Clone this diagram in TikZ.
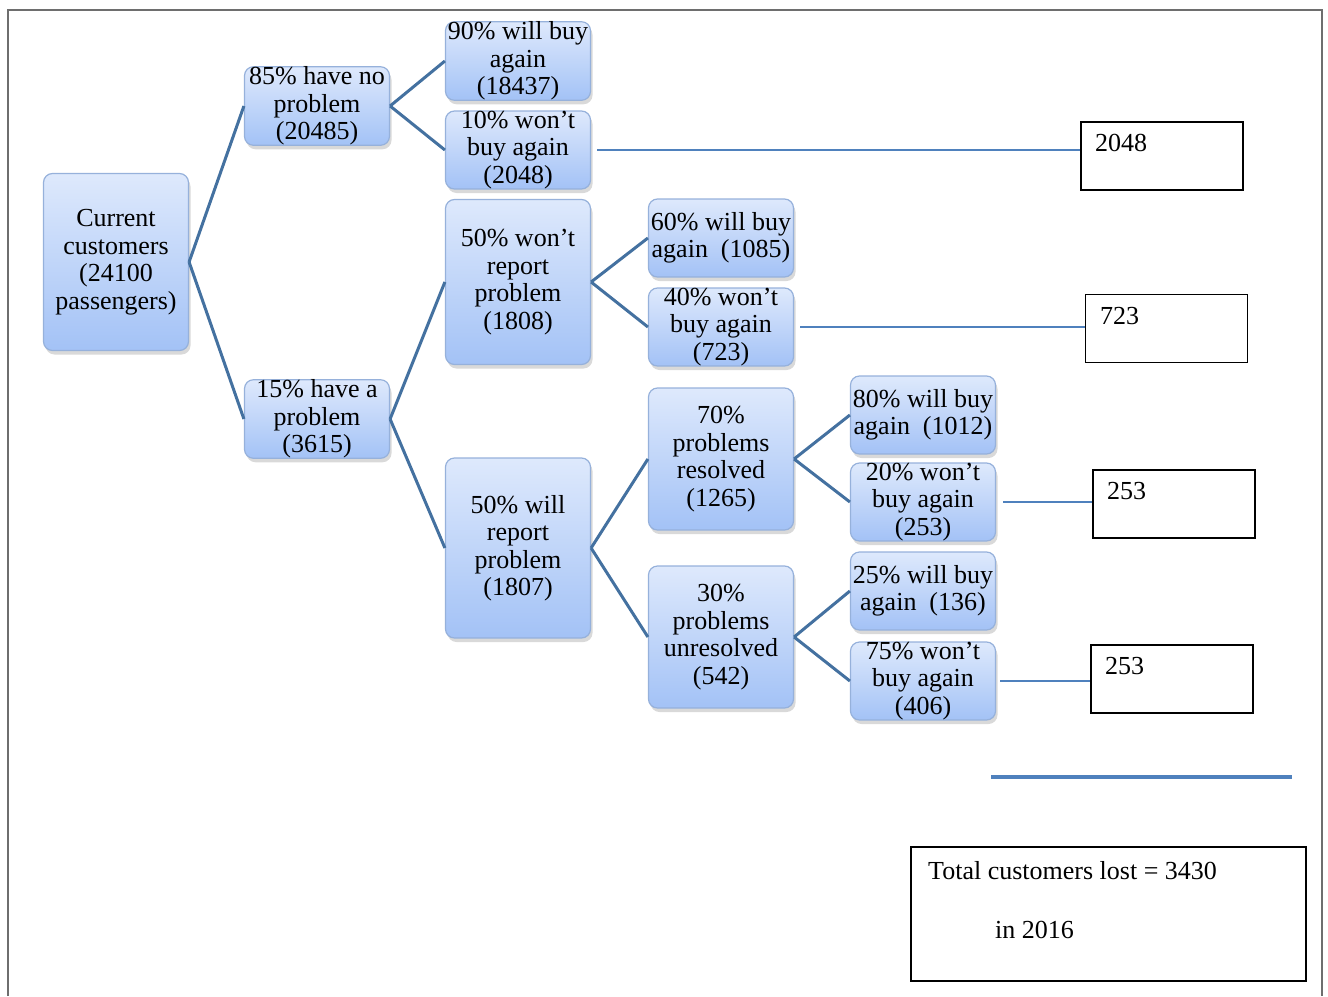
\documentclass[tikz,border=0pt]{standalone}
\usepackage{fontspec}
\setmainfont{Liberation Serif}
\usetikzlibrary{shadows}

\definecolor{boxtop}{RGB}{222,233,252}
\definecolor{boxbottom}{RGB}{163,194,246}
\definecolor{boxedge}{RGB}{150,177,219}
\definecolor{branchblue}{RGB}{68,113,160}
\definecolor{lostblue}{RGB}{79,129,189}
\definecolor{framegray}{RGB}{110,110,110}

\tikzset{
    treebox/.style={rectangle, rounded corners=9pt, draw=boxedge, line width=1.2pt,
        top color=boxtop, bottom color=boxbottom,
        drop shadow={shadow xshift=2pt, shadow yshift=-4pt, opacity=0.3},
        align=center, inner sep=0pt, minimum width=145pt,
        font=\fontsize{26}{27.5}\selectfont},
    branch/.style={draw=branchblue, line width=3pt},
    lostline/.style={draw=lostblue, line width=2pt},
    lostbox/.style={draw=black, line width=1.6pt, minimum width=162pt,
        minimum height=68pt, inner sep=0pt},
    losttext/.style={anchor=west, inner sep=0pt, font=\fontsize{26}{28}\selectfont}
}

\begin{document}
\begin{tikzpicture}[x=1pt, y=-1pt]
    \useasboundingbox (0,0) rectangle (1328,996);
    \draw [framegray, line width=2pt] (8,996) -- (8,10) -- (1322,10) -- (1322,996);

    % tree boxes
    \node [treebox, minimum height=177pt] (root) at (116,262) {Current\\customers\\(24100\\passengers)};
    \node [treebox, minimum height=78pt] (nop) at (317,106) {85\% have no\\problem\\(20485)};
    \node [treebox, minimum height=78pt] (prob) at (317,419) {15\% have a\\problem\\(3615)};
    \node [treebox, minimum height=78pt] (nopbuy) at (518,61) {90\% will buy\\again\\(18437)};
    \node [treebox, minimum height=78pt] (noplost) at (518,150) {10\% won't\\buy again\\(2048)};
    \node [treebox, minimum height=165pt] (norep) at (518,282) {50\% won't\\report\\problem\\(1808)};
    \node [treebox, minimum height=180pt] (rep) at (518,548) {50\% will\\report\\problem\\(1807)};
    \node [treebox, minimum height=78pt] (norepbuy) at (721,238) {60\% will buy\\again\ \ (1085)};
    \node [treebox, minimum height=78pt] (noreplost) at (721,327) {40\% won't\\buy again\\(723)};
    \node [treebox, minimum height=142pt] (res) at (721,459) {70\%\\problems\\resolved\\(1265)};
    \node [treebox, minimum height=142pt] (unres) at (721,637) {30\%\\problems\\unresolved\\(542)};
    \node [treebox, minimum height=78pt] (resbuy) at (923,415) {80\% will buy\\again\ \ (1012)};
    \node [treebox, minimum height=78pt] (reslost) at (923,502) {20\% won't\\buy again\\(253)};
    \node [treebox, minimum height=78pt] (unresbuy) at (923,591) {25\% will buy\\again\ \ (136)};
    \node [treebox, minimum height=78pt] (unreslost) at (923,681) {75\% won't\\buy again\\(406)};

    % branches
    \draw [branch] (root.east) -- (nop.west);
    \draw [branch] (root.east) -- (prob.west);
    \draw [branch] (nop.east) -- (nopbuy.west);
    \draw [branch] (nop.east) -- (noplost.west);
    \draw [branch] (prob.east) -- (norep.west);
    \draw [branch] (prob.east) -- (rep.west);
    \draw [branch] (norep.east) -- (norepbuy.west);
    \draw [branch] (norep.east) -- (noreplost.west);
    \draw [branch] (rep.east) -- (res.west);
    \draw [branch] (rep.east) -- (unres.west);
    \draw [branch] (res.east) -- (resbuy.west);
    \draw [branch] (res.east) -- (reslost.west);
    \draw [branch] (unres.east) -- (unresbuy.west);
    \draw [branch] (unres.east) -- (unreslost.west);

    % customers lost
    \node [lostbox] (lostA) at (1162,156) {};
    \node [losttext] (lostAtext) at (1095,143) {2048};
    \node [lostbox] (lostB) at (1166.5,328.5) {};
    \node [losttext] (lostBtext) at (1100,316) {723};
    \node [lostbox] (lostC) at (1174,504) {};
    \node [losttext] (lostCtext) at (1107,491) {253};
    \node [lostbox] (lostD) at (1172,679) {};
    \node [losttext] (lostDtext) at (1105,666) {253};

    \draw [lostline, shorten <=6pt] (noplost.east) -- (noplost.east -| lostA.west);
    \draw [lostline, shorten <=6pt] (noreplost.east) -- (noreplost.east -| lostB.west);
    \draw [lostline, shorten <=7pt] (reslost.east) -- (reslost.east -| lostC.west);
    \draw [lostline, shorten <=4pt] (unreslost.east) -- (unreslost.east -| lostD.west);

    % sum
    \coordinate (sumL) at (991,777);
    \coordinate (sumR) at (1292,777);
    \draw [lostblue, line width=4pt] (sumL) -- (sumR);

    \node [lostbox, minimum width=395pt, minimum height=134pt] (total) at (1108.5,914) {};
    \node [losttext] (totalA) at (928,871) {Total customers lost = 3430};
    \node [losttext] (totalB) at (995,930) {in 2016};
\end{tikzpicture}
\end{document}
